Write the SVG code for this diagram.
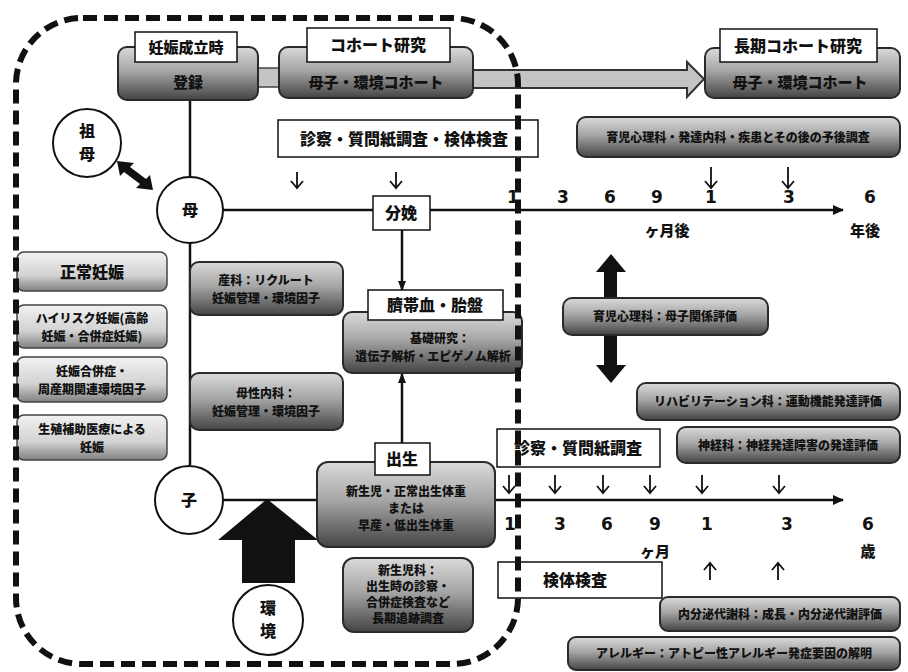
<svg xmlns="http://www.w3.org/2000/svg" width="908" height="672" viewBox="0 0 908 672">
<defs>
<linearGradient id="gd" x1="0" y1="0" x2="0" y2="1">
<stop offset="0" stop-color="#dadada"/><stop offset="0.45" stop-color="#a6a6a6"/><stop offset="1" stop-color="#444"/>
</linearGradient>
<linearGradient id="gl" x1="0" y1="0" x2="0" y2="1">
<stop offset="0" stop-color="#f2f2f2"/><stop offset="0.6" stop-color="#d2d2d2"/><stop offset="1" stop-color="#808080"/>
</linearGradient>
<marker id="tri" markerWidth="10" markerHeight="10" refX="9" refY="5" orient="auto" markerUnits="userSpaceOnUse">
<path d="M0,1 L10,5 L0,9 Z" fill="#111"/>
</marker>
<marker id="tri2" markerWidth="12" markerHeight="12" refX="10" refY="6" orient="auto" markerUnits="userSpaceOnUse">
<path d="M0,1 L11,6 L0,11 Z" fill="#111"/>
</marker>
</defs>
<style>
text{font-family:"Noto Sans CJK JP","Noto Sans",sans-serif;font-weight:900;fill:#111;text-anchor:middle}
.g{fill:url(#gd);stroke:#2a2a2a;stroke-width:2}
.gl{fill:url(#gl);stroke:#444;stroke-width:1.5}
.lb{fill:#fff;stroke:#111;stroke-width:1.5}
.c{fill:#fff;stroke:#111;stroke-width:2}
.ln{stroke:#111;stroke-width:2.5;fill:none}
.sa{stroke:#111;stroke-width:1.8;fill:none}
.t13{font-size:13px}
.t12{font-size:12px}
.t15{font-size:15px}
.t16{font-size:16px}
.t17{font-size:17px}
.num{font-family:"DejaVu Sans","Liberation Sans",sans-serif;font-weight:bold;font-size:17px}
</style>
<rect width="908" height="672" fill="#fff"/>

<g id="connectors">
<path d="M258,68 H280 V87 H258 Z" fill="#c4c4c4" stroke="#444" stroke-width="1.5"/>
<path d="M472,70 H687 V62 L704,79 L687,97 V88 H472 Z" fill="#c4c4c4" stroke="#333" stroke-width="2"/>
<line class="ln" x1="190" y1="100" x2="190" y2="177"/>
<line class="ln" x1="190" y1="243" x2="190" y2="465"/>
<line class="ln" x1="223" y1="210" x2="843" y2="210" marker-end="url(#tri2)"/>
<line class="ln" x1="223" y1="500" x2="318" y2="500"/>
<line class="ln" x1="495" y1="500" x2="843" y2="500" marker-end="url(#tri2)"/>
<line class="ln" x1="402" y1="230" x2="402" y2="290" marker-end="url(#tri)"/>
<line class="ln" x1="402" y1="443" x2="402" y2="374" marker-end="url(#tri)"/>
<path d="M117,161 L134,163 L130,167 L146,179 L150,175 L153,190 L136,188 L140,184 L124,172 L120,176 Z" fill="#111"/>
<path d="M267,499 L318,540 L295,540 L295,583 L242,583 L242,540 L218,540 Z" fill="#111"/>
<path d="M611,254 L626,272 L617,272 L617,298 L604,298 L604,272 L596,272 Z" fill="#111"/>
<path d="M611,383 L626,365 L617,365 L617,335 L604,335 L604,365 L596,365 Z" fill="#111"/>
<g class="sa">
<path d="M297,172 V188 M291,181 L297,188 L303,181"/>
<path d="M396,172 V188 M390,181 L396,188 L402,181"/>
<path d="M711,167 V188 M705,181 L711,188 L717,181"/>
<path d="M788,167 V188 M782,181 L788,188 L794,181"/>
<path d="M509,475 V493 M503,486 L509,493 L515,486"/>
<path d="M555,475 V493 M549,486 L555,493 L561,486"/>
<path d="M603,475 V493 M597,486 L603,493 L609,486"/>
<path d="M650,475 V493 M644,486 L650,493 L656,486"/>
<path d="M702,475 V493 M696,486 L702,493 L708,486"/>
<path d="M779,475 V493 M773,486 L779,493 L785,486"/>
<path d="M710,580 V563 M704,570 L710,563 L716,570"/>
<path d="M778,580 V563 M772,570 L778,563 L784,570"/>
</g>
</g>

<g id="n-touroku">
<rect class="g" x="118" y="47" width="140" height="53" rx="9"/>
<rect class="lb" x="135" y="32" width="102" height="30"/>
<text class="t15" x="186" y="53">妊娠成立時</text>
<text class="t15" x="188" y="88">登録</text>
</g>
<g id="n-cohort">
<rect class="g" x="279" y="47" width="194" height="51" rx="9"/>
<rect class="lb" x="307" y="28" width="143" height="34"/>
<text class="t16" x="378" y="51">コホート研究</text>
<text class="t15" x="376" y="88">母子・環境コホート</text>
</g>
<g id="n-longcohort">
<rect class="g" x="705" y="48" width="195" height="50" rx="9"/>
<rect class="lb" x="720" y="29" width="157" height="33"/>
<text class="t16" x="798" y="52">長期コホート研究</text>
<text class="t15" x="800" y="88">母子・環境コホート</text>
</g>
<g id="n-shinsatsu1">
<rect class="lb" x="278" y="120" width="260" height="37"/>
<text class="t16" x="404" y="145">診察・質問紙調査・検体検査</text>
</g>
<g id="n-ikuji1">
<rect class="g" x="577" y="117" width="323" height="40" rx="9"/>
<text class="t12" x="738" y="142">育児心理科・発達内科・疾患とその後の予後調査</text>
</g>
<g id="n-sobo">
<circle class="c" cx="87" cy="143" r="34"/>
<text class="t16" x="87" y="137">祖</text>
<text class="t16" x="87" y="160">母</text>
</g>
<g id="n-haha">
<circle class="c" cx="190" cy="210" r="33"/>
<text class="t16" x="190" y="216">母</text>
</g>
<g id="n-ko">
<circle class="c" cx="189" cy="500" r="34"/>
<text class="t16" x="189" y="506">子</text>
</g>
<g id="n-kankyo">
<circle class="c" cx="268" cy="620" r="35" stroke-width="1.5"/>
<text class="t16" x="268" y="614">環</text>
<text class="t16" x="268" y="637">境</text>
</g>
<g id="n-bunben">
<rect class="lb" x="373" y="196" width="57" height="34"/>
<text class="t16" x="401" y="219">分娩</text>
</g>
<g id="t-axis1">
<text class="num" x="513" y="203">1</text>
<text class="num" x="563" y="203">3</text>
<text class="num" x="610" y="203">6</text>
<text class="num" x="657" y="203">9</text>
<text class="num" x="711" y="203">1</text>
<text class="num" x="789" y="203">3</text>
<text class="num" x="870" y="203">6</text>
<text class="t15" x="667" y="236">ヶ月後</text>
<text class="t15" x="865" y="236">年後</text>
</g>
<g id="n-left1">
<rect class="gl" x="17" y="252" width="150" height="39" rx="7"/>
<text class="t16" x="92" y="278">正常妊娠</text>
</g>
<g id="n-left2">
<rect class="gl" x="17" y="305" width="150" height="43" rx="7"/>
<text class="t12" x="92" y="323">ハイリスク妊娠(高齢</text>
<text class="t12" x="92" y="341">妊娠・合併症妊娠)</text>
</g>
<g id="n-left3">
<rect class="gl" x="17" y="357" width="150" height="45" rx="7"/>
<text class="t12" x="92" y="376">妊娠合併症・</text>
<text class="t12" x="92" y="394">周産期関連環境因子</text>
</g>
<g id="n-left4">
<rect class="gl" x="17" y="415" width="150" height="45" rx="7"/>
<text class="t12" x="92" y="434">生殖補助医療による</text>
<text class="t12" x="92" y="452">妊娠</text>
</g>
<g id="n-sanka">
<rect class="g" x="190" y="262" width="153" height="53" rx="9"/>
<text class="t12" x="266" y="285">産科：リクルート</text>
<text class="t12" x="266" y="303">妊娠管理・環境因子</text>
</g>
<g id="n-bosei">
<rect class="g" x="190" y="373" width="153" height="57" rx="9"/>
<text class="t12" x="266" y="398">母性内科：</text>
<text class="t12" x="266" y="416">妊娠管理・環境因子</text>
</g>
<g id="n-saitai">
<rect class="g" x="343" y="312" width="179" height="61" rx="9"/>
<rect class="lb" x="368" y="290" width="135" height="30"/>
<text class="t16" x="435" y="311">臍帯血・胎盤</text>
<text class="t12" x="440" y="343">基礎研究：</text>
<text class="t12" x="433" y="361">遺伝子解析・エピゲノム解析</text>
</g>
<g id="n-shussei">
<rect class="g" x="317" y="462" width="178" height="85" rx="11"/>
<rect class="lb" x="375" y="443" width="55" height="32"/>
<text class="t16" x="402" y="465">出生</text>
<text class="t12" x="406" y="496">新生児・正常出生体重</text>
<text class="t12" x="406" y="513">または</text>
<text class="t12" x="406" y="530">早産・低出生体重</text>
</g>
<g id="n-shinseiji">
<rect class="g" x="343" y="558" width="130" height="74" rx="11"/>
<text class="t12" x="408" y="575">新生児科：</text>
<text class="t12" x="408" y="591">出生時の診察・</text>
<text class="t12" x="408" y="607">合併症検査など</text>
<text class="t12" x="408" y="623">長期追跡調査</text>
</g>
<g id="n-ikuji2">
<rect class="g" x="563" y="298" width="205" height="37" rx="9"/>
<text class="t12" x="665" y="321">育児心理科：母子関係評価</text>
</g>
<g id="n-riha">
<rect class="g" x="637" y="383" width="263" height="37" rx="9"/>
<text class="t12" x="768" y="406">リハビリテーション科：運動機能発達評価</text>
</g>
<g id="n-shinkei">
<rect class="g" x="677" y="427" width="223" height="36" rx="9"/>
<text class="t12" x="788" y="450">神経科：神経発達障害の発達評価</text>
</g>
<g id="n-shinsatsu2">
<rect class="lb" x="497" y="429" width="163" height="38"/>
<text class="t16" x="578" y="454">診察・質問紙調査</text>
</g>
<g id="t-axis2">
<text class="num" x="510" y="530">1</text>
<text class="num" x="560" y="530">3</text>
<text class="num" x="607" y="530">6</text>
<text class="num" x="655" y="530">9</text>
<text class="num" x="707" y="530">1</text>
<text class="num" x="787" y="530">3</text>
<text class="num" x="868" y="530">6</text>
<text class="t15" x="655" y="557">ヶ月</text>
<text class="t15" x="868" y="557">歳</text>
</g>
<g id="n-kentai">
<rect class="lb" x="498" y="562" width="164" height="36"/>
<text class="t16" x="575" y="586">検体検査</text>
</g>
<g id="n-naibunpi">
<rect class="g" x="660" y="597" width="240" height="34" rx="8"/>
<text class="t12" x="780" y="619">内分泌代謝科：成長・内分泌代謝評価</text>
</g>
<g id="n-allergy">
<rect class="g" x="568" y="637" width="332" height="33" rx="8"/>
<text class="t12" x="734" y="658">アレルギー：アトピー性アレルギー発症要因の解明</text>
</g>

<g id="boundary">
<path d="M83,18 H452 A66,66 0 0 1 518,84 V598 A66,66 0 0 1 452,664 H82 A66,66 0 0 1 16,598 V84 A66,66 0 0 1 83,18 Z" fill="none" stroke="#111" stroke-width="6" stroke-dasharray="14,7"/>
</g>
</svg>
